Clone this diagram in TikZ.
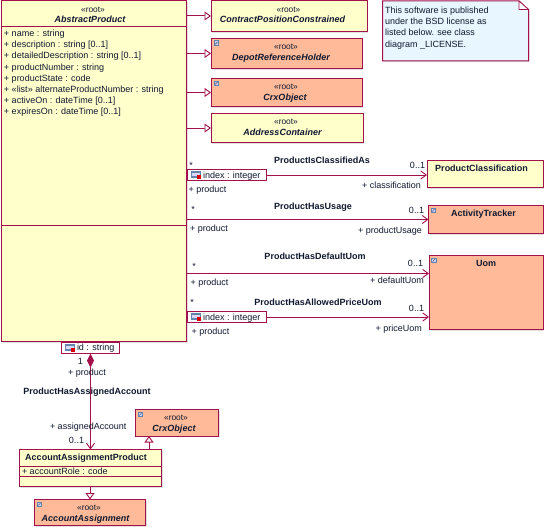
\documentclass[tikz,border=0pt]{standalone}
\usepackage{fontspec}
\setmainfont{Liberation Sans}
\usetikzlibrary{arrows.meta,shadows,shapes.misc}
\definecolor{umlline}{HTML}{A3104A}
\definecolor{umlyellow}{HTML}{FFFFCC}
\definecolor{umlorange}{HTML}{FFBB99}
\definecolor{umlnote}{HTML}{E8F7FF}
\definecolor{umltext}{HTML}{101830}
\definecolor{iconblue}{HTML}{6484AC}
\tikzset{
  x=1pt,y=-1pt,
  umlbox/.style={draw=umlline,line width=1pt,inner sep=0pt,outer sep=0pt,anchor=north west,
    drop shadow={shadow xshift=1.2pt,shadow yshift=-1.2pt,fill=black!30,opacity=.4}},
  yellowbox/.style={umlbox,fill=umlyellow},
  orangebox/.style={umlbox,fill=umlorange},
  qualbox/.style={draw=umlline,line width=1pt,fill=white,inner sep=0pt,outer sep=0pt,anchor=north west},
  txt/.style={inner sep=0pt,outer sep=0pt,font=\fontsize{9}{10}\selectfont,text=umltext,text height=8pt,text depth=1.4pt},
  lft/.style={txt,anchor=west},
  ctr/.style={txt,anchor=center},
  stereo/.style={ctr,font=\fontsize{8.4}{10}\selectfont},
  bname/.style={ctr,font=\fontsize{9}{10}\selectfont\bfseries},
  iname/.style={ctr,font=\fontsize{9}{10}\selectfont\bfseries\itshape},
  conn/.style={draw=umlline,line width=1pt},
  assoc/.style={conn,-{Straight Barb[length=5.5pt,width=8pt,line width=0.9pt]}},
  gener/.style={conn,-{Triangle[open,length=6.5pt,width=9pt,fill=white,line width=0.9pt]}},
  compos/.style={conn,{Diamond[length=14pt,width=7pt,fill=umlline]}-{Straight Barb[length=5.5pt,width=8pt,line width=0.9pt]}},
  sep/.style={draw=umlline,line width=1pt},
}
\newcommand{\linkicon}[2]{%
  \fill[iconblue] (#1,#2) rectangle ++(5.6,5.6);
  \fill[white!80!blue] (#1+1,#2+1) rectangle ++(3.6,3.6);
  \draw[black!70,line width=0.5pt] (#1+1.6,#2+4) -- ++(2.4,-2.4);}
\newcommand{\qualicon}[2]{%
  \fill[iconblue] (#1,#2) rectangle ++(9.5,6.5);
  \fill[white!85!blue] (#1+1,#2+2) rectangle ++(7.5,3);
  \fill[red!85!black] (#1+5.5,#2+4) rectangle ++(4,4);}
\begin{document}
\begin{tikzpicture}
\useasboundingbox (0,0) rectangle (546,527);
% main class
\node[yellowbox,minimum width=185pt,minimum height=340.5pt] (ap) at (1.5,1) {};
\draw[sep] (1.5,27) -- (186.5,27);
\draw[sep] (1.5,225.5) -- (186.5,225.5);
\node[stereo] (apS) at (93,9) {«root»};
\node[iname] (apN) at (90,19.5) {AbstractProduct};
\node[lft] (a1) at (4,33) {+ name : string};
\node[lft] (a2) at (4,44) {+ description : string [0..1]};
\node[lft] (a3) at (4,55) {+ detailedDescription : string [0..1]};
\node[lft] (a4) at (4,67) {+ productNumber : string};
\node[lft] (a5) at (4,78) {+ productState : code};
\node[lft] (a6) at (4,89) {+ «list» alternateProductNumber : string};
\node[lft] (a7) at (4,100) {+ activeOn : dateTime [0..1]};
\node[lft] (a8) at (4,111) {+ expiresOn : dateTime [0..1]};
% top right parents
\node[yellowbox,minimum width=156pt,minimum height=31pt] (cpc) at (211,0.5) {};
\node[stereo] (cpcS) at (288.5,9) {«root»};
\node[iname] (cpcN) at (282.5,19.5) {ContractPositionConstrained};
\node[orangebox,minimum width=151pt,minimum height=30pt] (drh) at (211,38.5) {};
\linkicon{213.5}{40.5}
\node[stereo] (drhS) at (286,46) {«root»};
\node[iname] (drhN) at (281,57) {DepotReferenceHolder};
\node[orangebox,minimum width=151pt,minimum height=28pt] (crx) at (211,78.5) {};
\linkicon{213.5}{80.5}
\node[stereo] (crxS) at (286,86) {«root»};
\node[iname] (crxN) at (285,97) {CrxObject};
\node[yellowbox,minimum width=152pt,minimum height=29pt] (adr) at (211,113.5) {};
\node[stereo] (adrS) at (286,121) {«root»};
\node[iname] (adrN) at (282.5,132) {AddressContainer};
\draw[gener] (ap.east |- cpc.west) -- (cpc.west);
\draw[gener] (ap.east |- drh.west) -- (drh.west);
\draw[gener] (ap.east |- crx.west) -- (crx.west);
\draw[gener] (ap.east |- adr.west) -- (adr.west);
% note
\fill[umlnote,draw=umlline,line width=1pt,drop shadow={shadow xshift=1.2pt,shadow yshift=-1.2pt,fill=black!30,opacity=.4}] (382.5,61) -- (382.5,1) -- (519,1) -- (528.5,9.5) -- (528.5,61) -- cycle;
\fill[white] (519,1) -- (528.5,9.5) -- (519,9.5) -- cycle;
\draw[umlline,line width=0.7pt] (519,1) -- (519,9.5) -- (528.5,9.5) -- cycle;
\node[lft] (n1) at (385,10) {This software is published};
\node[lft] (n2) at (385,21) {under the BSD license as};
\node[lft] (n3) at (385,32) {listed below. see class};
\node[lft] (n4) at (385,44) {diagram \_LICENSE.};
% right side classes
\node[yellowbox,minimum width=116pt,minimum height=27pt] (pc) at (427,160.5) {};
\node[bname] (pcN) at (481.5,168) {ProductClassification};
\node[orangebox,minimum width=114.5pt,minimum height=28pt] (atr) at (428.5,205.5) {};
\linkicon{430.5}{207.5}
\node[bname] (atrN) at (483.5,213) {ActivityTracker};
\node[orangebox,minimum width=114pt,minimum height=74pt] (uom) at (429,255.5) {};
\linkicon{431}{257.5}
\node[bname] (uomN) at (486,263) {Uom};
\coordinate (uomA) at (429,273.5);
\coordinate (uomB) at (429,317);
\coordinate (apA) at (186.5,273.5);
% qualifiers
\node[qualbox,minimum width=79pt,minimum height=11pt] (q1) at (187.5,169.5) {};
\qualicon{191}{171}
\node[lft] (q1T) at (203,175) {index : integer};
\node[qualbox,minimum width=79pt,minimum height=11pt] (q2) at (187.5,311.5) {};
\qualicon{191}{313}
\node[lft] (q2T) at (203,317) {index : integer};
\node[qualbox,minimum width=58pt,minimum height=11.5pt] (q3) at (61.5,342) {};
\qualicon{65}{344}
\node[lft] (q3T) at (77,347.5) {id : string};
% associations
\draw[assoc] (q1.east) -- (q1.east -| pc.west);
\draw[assoc] (ap.east |- atr.west) -- (atr.west);
\draw[assoc] (apA) -- (uomA);
\draw[assoc] (q2.east) -- (uomB);
% association labels
\node[bname] (l1) at (322,160) {ProductIsClassifiedAs};
\node[bname] (l2) at (313,206) {ProductHasUsage};
\node[bname] (l3) at (315,256) {ProductHasDefaultUom};
\node[bname] (l4) at (318,302) {ProductHasAllowedPriceUom};
\node[ctr] (s1) at (191,165) {*};
\node[ctr] (s2) at (193,209.5) {*};
\node[ctr] (s3) at (194,266.5) {*};
\node[ctr] (s4) at (192,302.5) {*};
\node[lft] (p1) at (188.5,189) {+ product};
\node[lft] (p2) at (190,228) {+ product};
\node[lft] (p3) at (190.5,282) {+ product};
\node[lft] (p4) at (191.5,331) {+ product};
\node[ctr] (m1) at (417.5,165) {0..1};
\node[ctr] (m2) at (416.5,210) {0..1};
\node[ctr] (m3) at (415.5,263) {0..1};
\node[ctr] (m4) at (416.5,308) {0..1};
\node[txt,anchor=east] (r1) at (421,185) {+ classification};
\node[txt,anchor=east] (r2) at (422,230) {+ productUsage};
\node[txt,anchor=east] (r3) at (424,280) {+ defaultUom};
\node[txt,anchor=east] (r4) at (422,328) {+ priceUom};
% bottom classes
\node[yellowbox,minimum width=142pt,minimum height=37pt] (aap) at (19.5,449.5) {};
\draw[sep] (19.5,466) -- (161.5,466);
\draw[sep] (19.5,476.5) -- (161.5,476.5);
\node[bname] (aapN) at (86,457) {AccountAssignmentProduct};
\node[lft] (aapA) at (22,471) {+ accountRole : code};
\node[orangebox,minimum width=83pt,minimum height=26.5pt] (crx2) at (135.5,409.5) {};
\linkicon{137.5}{411.5}
\node[stereo] (crx2S) at (176,417) {«root»};
\node[iname] (crx2N) at (174,428) {CrxObject};
\node[orangebox,minimum width=111pt,minimum height=26pt] (aa) at (34.5,499.5) {};
\linkicon{36.5}{501.5}
\node[stereo] (aaS) at (89,507) {«root»};
\node[iname] (aaN) at (85.5,518) {AccountAssignment};
\draw[compos] (q3.south) -- (q3.south |- aap.north);
\coordinate (aapG) at (149,449.5);
\draw[gener] (aapG) -- (aapG |- crx2.south);
\draw[gener] (aap.south -| aa.north) -- (aa.north);
\node[ctr] (one) at (80.5,361) {1};
\node[lft] (bp) at (68,372) {+ product};
\node[bname] (l5) at (87,391) {ProductHasAssignedAccount};
\node[lft] (ba) at (50,426) {+ assignedAccount};
\node[ctr] (m5) at (76.5,440) {0..1};
\end{tikzpicture}
\end{document}
